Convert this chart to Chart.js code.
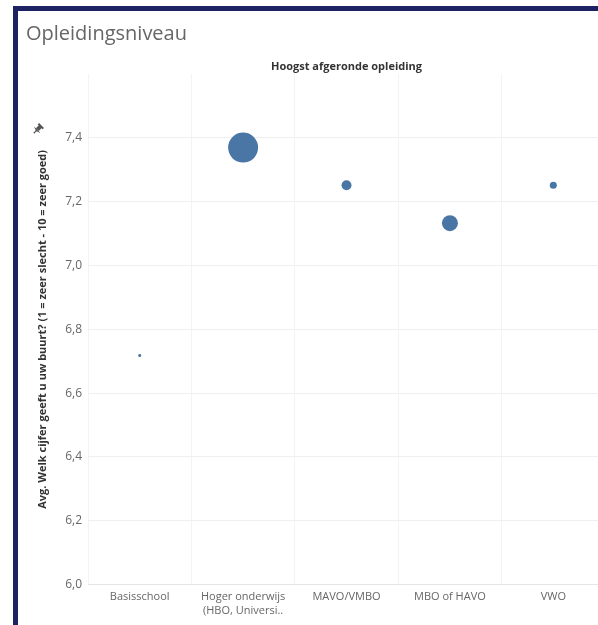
<!DOCTYPE html>
<html>
<head>
<meta charset="utf-8">
<script src="https://cdn.jsdelivr.net/npm/chart.js@4.4.0/dist/chart.umd.min.js"></script>
<style>
  html, body { margin: 0; padding: 0; background: #fff; overflow: hidden; }
  #frame {
    position: absolute; left: 13px; top: 6px; width: 600px; height: 630px;
    border-top: 5px solid #1c2262; border-left: 5px solid #1c2262;
    box-sizing: border-box;
  }
  #wrap { position: absolute; left: 22px; top: 11px; width: 598px; height: 612px; }
</style>
</head>
<body>
<div id="frame"></div>
<div id="wrap"><canvas id="chart"></canvas></div>
<script>
// ---- data ----
const categories = ["Basisschool", ["Hoger onderwijs", "(HBO, Universi.."], "MAVO/VMBO", "MBO of HAVO", "VWO"];
const avgScore = [6.718, 7.37, 7.252, 7.133, 7.252];
const respondents = [2, 200, 22, 57, 11];   // bepaalt de grootte van de bubbels
const yTicks = [6.0, 6.2, 6.4, 6.6, 6.8, 7.0, 7.2, 7.4];

const catKeys = categories.map(c => Array.isArray(c) ? c.join(" ") : c);

function bubbleRadius(n) {
    return Math.sqrt(n) * 1.06;
}

const points = catKeys.map((k, i) => ({ x: k, y: avgScore[i], r: bubbleRadius(respondents[i]) }));

// klein punaise-icoon naast de as-titel
const pinPlugin = {
    id: "pin",
    afterDraw(chart) {
        const ctx = chart.ctx;
        ctx.save();
        ctx.translate(16, 118);
        ctx.rotate(Math.PI / 4);
        ctx.fillStyle = "#555";
        ctx.fillRect(-3.5, -5, 7, 2);
        ctx.fillRect(-2, -4, 4, 5);
        ctx.beginPath();
        ctx.moveTo(-4.5, 1);
        ctx.lineTo(4.5, 1);
        ctx.lineTo(0, 3);
        ctx.closePath();
        ctx.fill();
        ctx.fillRect(-0.6, 2, 1.2, 4);
        ctx.restore();
    }
};

const fmt = v => v.toFixed(1).replace(".", ",");

new Chart(document.getElementById("chart").getContext("2d"), {
    type: "bubble",
    data: {
        labels: catKeys,
        datasets: [{
            data: points,
            backgroundColor: "#4a76a6",
            borderColor: "#4a76a6",
            borderWidth: 0,
            hoverBorderWidth: 0
        }]
    },
    options: {
        responsive: true,
        maintainAspectRatio: false,
        animation: false,
        layout: { padding: { left: 4, right: 0, top: 0, bottom: 0 } },
        plugins: {
            legend: { display: false },
            tooltip: { enabled: false },
            title: {
                display: true,
                text: "Opleidingsniveau",
                align: "start",
                color: "#666",
                font: { family: "Open Sans", size: 20, weight: "normal" },
                padding: { top: 11, bottom: 14 }
            },
            subtitle: {
                display: true,
                text: "Hoogst afgeronde opleiding",
                fullSize: false,
                color: "#333",
                font: { family: "Open Sans", size: 11, weight: "bold" },
                padding: { top: 0, bottom: 1 }
            }
        },
        scales: {
            x: {
                type: "category",
                labels: catKeys,
                offset: true,
                grid: { offset: true, color: "#f3f3f3", drawTicks: false },
                border: { color: "#e6e6e6" },
                ticks: {
                    color: "#666",
                    padding: 6,
                    maxRotation: 0,
                    autoSkip: false,
                    font: { family: "Open Sans", size: 11 },
                    callback: (v, i) => categories[i]
                }
            },
            y: {
                min: 6.0,
                max: 7.6,
                afterBuildTicks: axis => { axis.ticks = yTicks.concat([7.6]).map(v => ({ value: v })); },
                grid: {
                    color: ctx => (ctx.tick && ctx.tick.value > 7.5) ? "rgba(0,0,0,0)" : "#efefef",
                    drawTicks: false
                },
                border: { display: false },
                ticks: {
                    color: "#666",
                    padding: 6,
                    font: { family: "Open Sans", size: 12 },
                    callback: v => v > 7.5 ? "" : fmt(v)
                },
                title: {
                    display: true,
                    text: "Avg. Welk cijfer geeft u uw buurt? (1 = zeer slecht - 10 = zeer goed)",
                    color: "#333",
                    font: { family: "Open Sans", size: 11, weight: "bold" },
                    padding: { top: 10, bottom: 10 }
                }
            }
        }
    },
    plugins: [pinPlugin]
});
</script>
</body>
</html>
